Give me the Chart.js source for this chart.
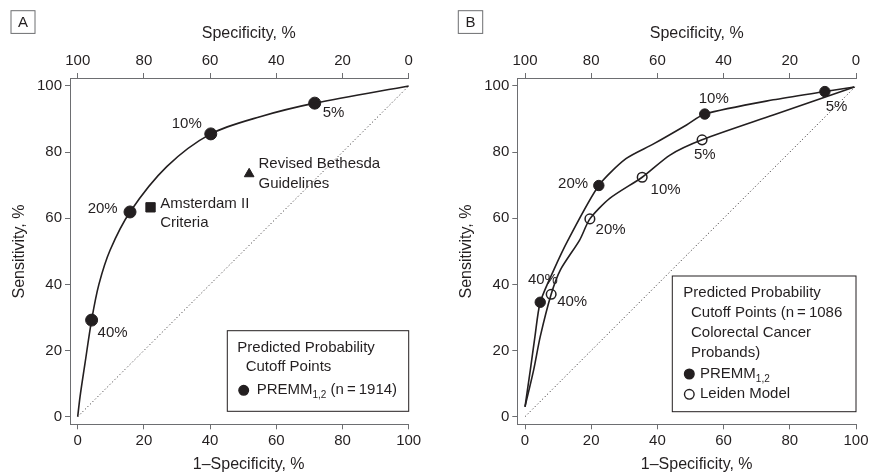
<!DOCTYPE html>
<html>
<head>
<meta charset="utf-8">
<script src="https://cdn.jsdelivr.net/npm/chart.js@4.4.1/dist/chart.umd.min.js"></script>
<style>
    html, body { margin: 0; padding: 0; background: #fff; }
    #wrap { position: relative; width: 880px; height: 474px; }
    canvas { position: absolute; top: 0; }
</style>
</head>
<body>
<div id="wrap">
    <canvas id="chartA" width="440" height="474" style="left:0"></canvas>
    <canvas id="chartB" width="440" height="474" style="left:440px"></canvas>
</div>
<script>
// Data (x = 1-specificity %, y = sensitivity %)
const cutoffs = ['5%', '10%', '20%', '40%'];
const axisTicks = [0, 20, 40, 60, 80, 100];
const diagonal = [0, 100];

// Panel A
const aPointX = [71.6, 40.2, 15.8, 4.2];
const aPointY = [94.8, 85.5, 61.9, 29.2];
const aCurveX = [0, 0.7, 2.2, 4.2, 6.4, 9.8, 15.8, 26.9, 40.2, 55.1, 71.6, 100];
const aCurveY = [0, 6, 16.1, 29.2, 40, 50.4, 61.9, 75.6, 85.5, 90.7, 94.8, 100];
const amsterdamX = [22.0];
const amsterdamY = [63.3];
const bethesdaX = [51.8];
const bethesdaY = [73.4];

// Panel B
const premmX = [90.6, 54.3, 22.3, 4.6];
const premmY = [98.3, 91.5, 69.9, 34.6];
const leidenX = [53.5, 35.4, 19.6, 7.9];
const leidenY = [83.7, 72.4, 59.8, 37.0];
const premmCurveX = [0, 1.6, 3.0, 4.6, 8.7, 13, 22.3, 30.5, 38.7, 48.8, 54.3, 75, 90.6, 99.5];
const premmCurveY = [3, 14.1, 24.2, 34.6, 44.4, 53.4, 69.9, 78, 82.4, 88.2, 91.5, 95.8, 98.3, 99.7];
const leidenCurveX = [0, 2.6, 4.6, 7.9, 10.7, 16.5, 19.6, 25.6, 35.4, 43.8, 53.5, 75, 99.5];
const leidenCurveY = [3, 14.1, 24.2, 37.0, 44.4, 53.4, 59.8, 66, 72.4, 79.1, 83.7, 91.2, 99.7];

const ink = '#231f20';
const axisColor = '#6d6e71';
const fontFamily = "'Liberation Sans', Arial, sans-serif";

Chart.defaults.font.family = fontFamily;
Chart.defaults.font.size = 15;
Chart.defaults.color = ink;

const toPts = (xs, ys) => xs.map((x, i) => ({ x: x, y: ys[i] }));

function axis(extra) {
    return Object.assign({
        type: 'linear',
        grid: { drawOnChartArea: false, tickLength: 5, color: axisColor, lineWidth: 1 },
        border: { color: axisColor, width: 1 },
        ticks: { color: ink, font: { size: 15 }, padding: 3 },
        afterBuildTicks: s => { s.ticks = axisTicks.map(v => ({ value: v })); }
    }, extra);
}

function makeScales(yWidth) {
    return {
        x: axis({ position: 'bottom', min: -2.33, max: 100, afterFit: s => { s.height = 49.7; } }),
        x2: axis({ position: 'top', reverse: true, min: 0, max: 102.33, afterFit: s => { s.height = 78; } }),
        y: axis({ position: 'left', min: -2.3, max: 102.4, afterFit: s => { s.width = yWidth; } })
    };
}

function line(xs, ys, extra) {
    return Object.assign({
        data: toPts(xs, ys),
        showLine: true,
        borderColor: ink,
        borderWidth: 1.6,
        pointRadius: 0,
        tension: 0.25,
        clip: false
    }, extra);
}

function marks(xs, ys, extra) {
    return Object.assign({
        data: toPts(xs, ys),
        showLine: false,
        backgroundColor: ink,
        borderColor: ink,
        pointRadius: 6,
        borderWidth: 1,
        clip: false
    }, extra);
}

// text with an optional subscript part: [[text, sub?], ...]
function richText(ctx, parts, x, y) {
    ctx.textAlign = 'left';
    ctx.textBaseline = 'middle';
    parts.forEach(p => {
        ctx.font = (p[1] ? '10px ' : '15px ') + fontFamily;
        ctx.fillText(p[0], x, y + (p[1] ? 5 : 0));
        x += ctx.measureText(p[0]).width;
    });
}

const annotate = {
    id: 'annotate',
    afterDraw(chart, args, opts) {
        const ctx = chart.ctx;
        ctx.save();
        ctx.fillStyle = ink;
        ctx.font = '15px ' + fontFamily;

        // panel letter
        const b = opts.letterBox;
        ctx.strokeStyle = axisColor;
        ctx.lineWidth = 1;
        ctx.strokeRect(b[0], b[1], b[2], b[3]);
        ctx.textAlign = 'center';
        ctx.textBaseline = 'middle';
        ctx.fillText(opts.letter, b[0] + b[2] / 2, b[1] + b[3] / 2 + 1);

        // axis titles
        ctx.font = '16px ' + fontFamily;
        ctx.fillText('Specificity, %', opts.titleX, 34);
        ctx.fillText('1\u2013Specificity, %', opts.titleX, 465);
        ctx.save();
        ctx.translate(opts.yTitleX, 251.5);
        ctx.rotate(-Math.PI / 2);
        ctx.fillText('Sensitivity, %', 0, 0);
        ctx.restore();
        ctx.font = '15px ' + fontFamily;

        // point labels
        opts.labels.forEach(l => {
            const el = chart.getDatasetMeta(l.ds).data[l.i];
            ctx.textAlign = l.align || 'center';
            ctx.textBaseline = 'middle';
            l.text.split('\n').forEach((t, k) => {
                ctx.fillText(t, el.x + l.dx, el.y + l.dy + k * 19.3);
            });
        });

        // legend box
        const g = opts.legend;
        ctx.strokeStyle = ink;
        ctx.strokeRect(g.box[0], g.box[1], g.box[2], g.box[3]);
        g.lines.forEach(ln => {
            if (ln.marker) {
                ctx.beginPath();
                ctx.arc(ln.mx, ln.y, 4.8, 0, Math.PI * 2);
                ctx.fillStyle = ln.marker === 'open' ? '#fff' : ink;
                ctx.fill();
                ctx.lineWidth = 1.4;
                ctx.strokeStyle = ink;
                ctx.stroke();
                ctx.fillStyle = ink;
            }
            richText(ctx, ln.parts, ln.x, ln.y);
        });
        ctx.restore();
    }
};

const baseOptions = {
    responsive: false,
    animation: false,
    events: [],
    plugins: { legend: { display: false }, tooltip: { enabled: false } }
};

// Panel A
const chartA = new Chart(document.getElementById('chartA'), {
    type: 'scatter',
    data: {
        datasets: [
            line(diagonal, diagonal, { borderWidth: 1, borderDash: [1, 2.5], tension: 0 }),
            line(aCurveX, aCurveY, { tension: 0.3 }),
            marks(aPointX, aPointY),
            marks(amsterdamX, amsterdamY, { pointStyle: 'rect', pointRadius: 6.6 }),
            marks(bethesdaX, bethesdaY, { pointStyle: 'triangle', pointRadius: 5.6 })
        ]
    },
    options: Object.assign({}, baseOptions, {
        layout: { padding: { left: 0, right: 31.3, top: 0, bottom: 0 } },
        scales: makeScales(70),
        plugins: Object.assign({}, baseOptions.plugins, {
            annotate: {
                letter: 'A',
                letterBox: [11, 10.7, 24, 22.7],
                titleX: 248.7,
                yTitleX: 20,
                labels: [
                    { ds: 2, i: 0, text: cutoffs[0], dx: 8, dy: 10, align: 'left' },
                    { ds: 2, i: 1, text: cutoffs[1], dx: -9, dy: -10, align: 'right' },
                    { ds: 2, i: 2, text: cutoffs[2], dx: -12.3, dy: -3.3, align: 'right' },
                    { ds: 2, i: 3, text: cutoffs[3], dx: 6, dy: 12.7, align: 'left' },
                    { ds: 3, i: 0, text: 'Amsterdam II\nCriteria', dx: 9.6, dy: -3.3, align: 'left' },
                    { ds: 4, i: 0, text: 'Revised Bethesda\nGuidelines', dx: 9.3, dy: -9.7, align: 'left' }
                ],
                legend: {
                    box: [227.3, 330.7, 181.4, 80.6],
                    lines: [
                        { x: 237.3, y: 348.3, parts: [['Predicted Probability']] },
                        { x: 245.7, y: 367.3, parts: [['Cutoff Points']] },
                        { x: 256.7, y: 390.3, marker: 'filled', mx: 243.7,
                          parts: [['PREMM'], ['1,2', true], [' (n\u2009=\u20091914)']] }
                    ]
                }
            }
        })
    }),
    plugins: [annotate]
});

// Panel B
const chartB = new Chart(document.getElementById('chartB'), {
    type: 'scatter',
    data: {
        datasets: [
            line(diagonal, diagonal, { borderWidth: 1, borderDash: [1, 2.5], tension: 0 }),
            line(premmCurveX, premmCurveY),
            line(leidenCurveX, leidenCurveY),
            marks(premmX, premmY, { pointRadius: 5.2 }),
            marks(leidenX, leidenY, { pointRadius: 4.8, backgroundColor: '#fff', borderWidth: 1.5 })
        ]
    },
    options: Object.assign({}, baseOptions, {
        layout: { padding: { left: 0, right: 24, top: 0, bottom: 0 } },
        scales: makeScales(77.3),
        plugins: Object.assign({}, baseOptions.plugins, {
            annotate: {
                letter: 'B',
                letterBox: [18.3, 10.7, 24.4, 22.7],
                titleX: 256.7,
                yTitleX: 27,
                labels: [
                    { ds: 3, i: 0, text: cutoffs[0], dx: 11.7, dy: 15.6 },
                    { ds: 3, i: 1, text: cutoffs[1], dx: 9, dy: -14.7 },
                    { ds: 3, i: 2, text: cutoffs[2], dx: -25.7, dy: -1.4 },
                    { ds: 3, i: 3, text: cutoffs[3], dx: 2.7, dy: -22.1 },
                    { ds: 4, i: 0, text: cutoffs[0], dx: 2.7, dy: 15 },
                    { ds: 4, i: 1, text: cutoffs[1], dx: 23.4, dy: 12.7 },
                    { ds: 4, i: 2, text: cutoffs[2], dx: 20.7, dy: 11 },
                    { ds: 4, i: 3, text: cutoffs[3], dx: 21, dy: 7.4 }
                ],
                legend: {
                    box: [232.3, 276, 183.7, 135.7],
                    lines: [
                        { x: 243.3, y: 292.7, parts: [['Predicted Probability']] },
                        { x: 251, y: 312.7, parts: [['Cutoff Points (n\u2009=\u20091086']] },
                        { x: 251, y: 332.7, parts: [['Colorectal Cancer']] },
                        { x: 251, y: 352.7, parts: [['Probands)']] },
                        { x: 260, y: 374, marker: 'filled', mx: 249.3, parts: [['PREMM'], ['1,2', true]] },
                        { x: 260, y: 394.3, marker: 'open', mx: 249.3, parts: [['Leiden Model']] }
                    ]
                }
            }
        })
    }),
    plugins: [annotate]
});
</script>
</body>
</html>
